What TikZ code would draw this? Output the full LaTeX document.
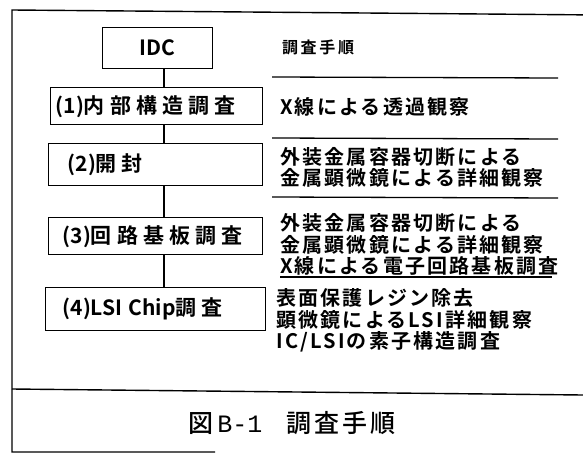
\documentclass[tikz,border=0pt]{standalone}
\usepackage{fontspec}
\newfontfamily\boxf{Noto Sans CJK JP Bold}[LetterSpace=24]
\newfontfamily\boxl{Noto Sans CJK JP Bold}
\newfontfamily\rtf{Noto Sans CJK JP Bold}[LetterSpace=11]
\newfontfamily\capf{Noto Sans CJK JP Medium}[LetterSpace=12]
\newfontfamily\capm{Liberation Mono}
\tikzset{
  frameline/.style={line width=1.4pt},
  stepbox/.style={draw, line width=1.4pt, anchor=north west, inner xsep=5pt, inner ysep=0pt, align=left},
  conn/.style={line width=2.6pt},
  sepline/.style={line width=1.3pt},
  rtext/.style={anchor=west, inner sep=0pt, font=\fontsize{20}{24}\selectfont\rtf}
}
\begin{document}
\begin{tikzpicture}[x=1pt,y=-1pt]
\useasboundingbox (0,0) rectangle (583,455);
% frame
\draw[frameline] (600,15) -- (12,10) -- (12,452) -- (215,452);
\draw[frameline] (12,389) -- (583,395);
% boxes
\node[stepbox, text width=100pt, minimum height=41pt, align=center] (idc) at (102,27)
  {\fontsize{21}{24}\selectfont\boxl IDC};
\node[stepbox, text width=202pt, minimum height=37pt] (b1) at (50,87)
  {\fontsize{21}{24}\selectfont\boxl (1)\boxf 内部構造調査};
\node[stepbox, text width=204pt, minimum height=42pt] (b2) at (48,143)
  {\fontsize{21}{24}\selectfont\hspace*{14pt}\boxl (2)\boxf 開封};
\node[stepbox, text width=204pt, minimum height=37pt] (b3) at (48,217)
  {\fontsize{21}{24}\selectfont\hspace*{9pt}\boxl (3)\boxf 回路基板調査};
\node[stepbox, text width=210pt, minimum height=43pt] (b4) at (45,287)
  {\fontsize{21}{24}\selectfont\hspace*{12pt}\boxl (4)LSI\hspace{6pt}Chip\boxf 調査};
% connectors
\draw[conn] (idc.south -| 164,0) -- (b1.north -| 164,0);
\draw[conn] (b1.south -| 164,0) -- (b2.north -| 164,0);
\draw[conn] (b2.south -| 164,0) -- (b3.north -| 164,0);
\draw[conn] (b3.south -| 164,0) -- (b4.north -| 164,0);
% right side
\node[anchor=center, inner sep=0pt, font=\fontsize{16}{19}\selectfont\rtf] (hd) at (318,47) {調\,査\,手\,順};
\coordinate (l1a) at (272,77); \coordinate (l1b) at (558,78);
\draw[sepline] (l1a) -- (l1b);
\node[rtext] (t1) at (280,107) {X線による透過観察};
\coordinate (l2a) at (272,138); \coordinate (l2b) at (558,139);
\draw[sepline] (l2a) -- (l2b);
\node[rtext] (t2a) at (280,157) {外装金属容器切断による};
\node[rtext] (t2b) at (280,178) {金属顕微鏡による詳細観察};
\coordinate (l3a) at (272,197); \coordinate (l3b) at (558,198);
\draw[sepline] (l3a) -- (l3b);
\node[rtext] (t3a) at (280,223) {外装金属容器切断による};
\node[rtext] (t3b) at (280,245) {金属顕微鏡による詳細観察};
\node[rtext] (t3c) at (280,266) {X線による電子回路基板調査};
\coordinate (l4a) at (280,277); \coordinate (l4b) at (552,277);
\draw[sepline] (l4a) -- (l4b);
\node[rtext] (t4a) at (276,298) {表面保護レジン除去};
\node[rtext] (t4b) at (276,320) {顕微鏡によるLSI詳細観察};
\node[rtext] (t4c) at (276,342) {IC/LSIの素子構造調査};
% caption
\node[anchor=west, inner sep=0pt] (cap) at (188,423)
  {\fontsize{25}{30}\selectfont\capf 図\,\capm B-1\hspace{24pt}\capf 調査手順};
\end{tikzpicture}
\end{document}
